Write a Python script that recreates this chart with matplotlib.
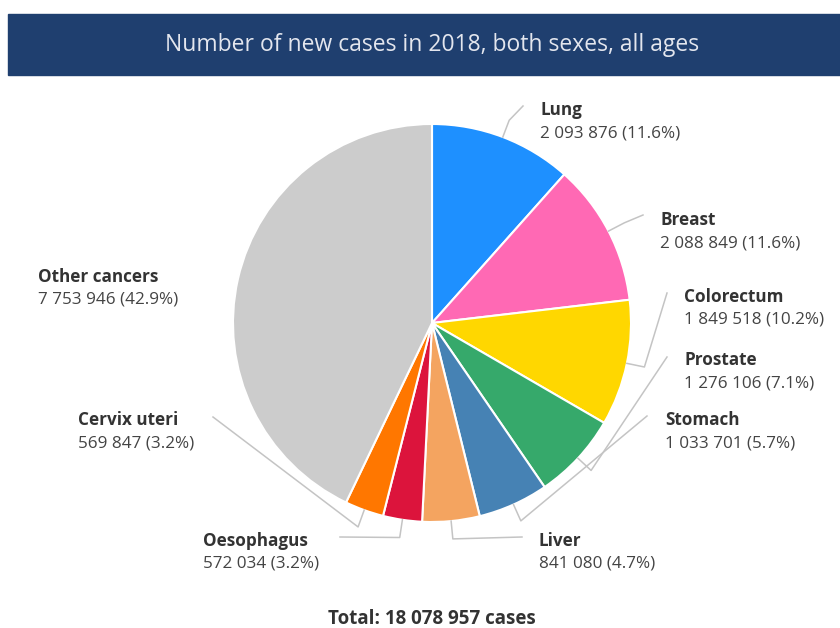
import numpy as np
import matplotlib.pyplot as plt
from matplotlib.patches import Rectangle

plt.rcParams['font.family'] = ['Open Sans', 'DejaVu Sans']

# data
sites = ['Lung', 'Breast', 'Colorectum', 'Prostate', 'Stomach', 'Liver',
         'Oesophagus', 'Cervix uteri', 'Other cancers']
cases = [2093876, 2088849, 1849518, 1276106, 1033701, 841080,
         572034, 569847, 7753946]
colors = ['#1E90FF', '#FF69B4', '#FFD700', '#36A96B', '#4682B4', '#F4A460',
          '#DC143C', '#FF7700', '#CCCCCC']
total = 18078957

# label anchors (image pixels, y from top): text pos and leader end point
label_xy = [(540, 110), (660, 220), (684, 297), (684, 360), (665, 420),
            (539, 541), (203, 541), (78, 420), (38, 277)]
leader_end = [(523, 106), (643, 215), (667, 293), (667, 357), (647, 416),
              (522, 537), (340, 537), (213, 417), None]

H = 628
def Y(y):
    return H - y

fig = plt.figure(figsize=(8.4, 6.28), dpi=100)
ax = fig.add_axes([0, 0, 1, 1])

# title banner
ax.add_patch(Rectangle((8, Y(75)), 840, 61, color='#1F3F6F', zorder=1))
ax.text(432, Y(45), 'Number of new cases in 2018, both sexes, all ages',
        color='#E3E6EE', fontsize=16.5, ha='center', va='center', zorder=2)

cx, cy, r = 432, Y(323), 199
wedges, _ = ax.pie(cases, colors=colors, startangle=90, counterclock=False,
                   center=(cx, cy), radius=r, frame=True,
                   wedgeprops=dict(edgecolor='white', linewidth=1.5))
ax.set_xlim(0, 840)
ax.set_ylim(0, H)
ax.set_aspect('equal')
ax.axis('off')

for i, w in enumerate(wedges):
    v = cases[i]
    num = f'{v:,}'.replace(',', ' ')
    pct = 100 * v / total
    lx, ly = label_xy[i]
    ax.text(lx, Y(ly), sites[i], fontsize=12.3, fontweight='bold',
            color='#333333', ha='left', va='center')
    ax.text(lx, Y(ly + 23), f'{num} ({pct:.1f}%)', fontsize=12.3,
            color='#444444', ha='left', va='center')
    if leader_end[i] is None:
        continue
    a = np.deg2rad((w.theta1 + w.theta2) / 2)
    x0, y0 = cx + r * np.cos(a), cy + r * np.sin(a)
    x1, y1 = cx + 1.09 * r * np.cos(a), cy + 1.09 * r * np.sin(a)
    ex, ey = leader_end[i]
    ax.plot([x0, x1, ex], [y0, y1, Y(ey)], color='#C4C4C4', lw=1.1,
            solid_joinstyle='round')

ax.text(432, Y(619), f'Total: {total:,} cases'.replace(',', ' '),
        fontsize=13.5, fontweight='bold', color='#333333', ha='center',
        va='center')

fig.savefig('out.png', dpi=100)
